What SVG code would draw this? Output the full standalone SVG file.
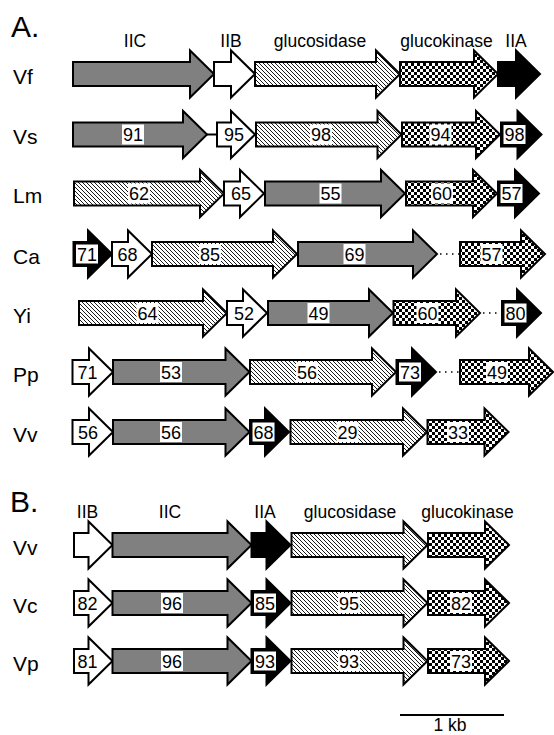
<svg xmlns="http://www.w3.org/2000/svg" width="554" height="735" viewBox="0 0 554 735">
<defs>
<pattern id="hatch" width="4" height="4" patternUnits="userSpaceOnUse">
<rect width="4" height="4" fill="#fff"/>
<path d="M-1,-1 L5,5 M-1,3 L1,5 M3,-1 L5,1" stroke="#000" stroke-width="0.9"/>
</pattern>
<pattern id="check" width="6" height="6" patternUnits="userSpaceOnUse">
<rect width="6" height="6" fill="#fff"/>
<rect width="3" height="3" fill="#000"/>
<rect x="3" y="3" width="3" height="3" fill="#000"/>
</pattern>
</defs>
<style>
polygon{stroke:#000;stroke-width:2;stroke-linejoin:miter}
.g{fill:#808080}
.w{fill:#fff}
.h{fill:url(#hatch)}
.c{fill:url(#check)}
.k{fill:#000}
.b{fill:#fff}
text{font-family:"Liberation Sans",Arial,sans-serif;fill:#000}
.n{font-size:18px;text-anchor:middle}
.hd{font-size:17.5px;text-anchor:middle}
.rl{font-size:21px}
.sec{font-size:30px}
.ln{stroke:#000;stroke-width:2}
.dt{stroke:#000;stroke-width:1.5;stroke-dasharray:1.5,4.5}
</style>

<text class="sec" x="11" y="37">A.</text>
<text class="hd" x="135" y="46.5">IIC</text>
<text class="hd" x="231" y="46.5">IIB</text>
<text class="hd" x="320" y="46.5">glucosidase</text>
<text class="hd" x="446.5" y="46.5">glucokinase</text>
<text class="hd" x="516" y="46.5">IIA</text>

<text class="rl" x="13" y="83.5">Vf</text>
<text class="rl" x="13" y="144">Vs</text>
<text class="rl" x="13" y="203">Lm</text>
<text class="rl" x="13" y="263.5">Ca</text>
<text class="rl" x="13" y="322.5">Yi</text>
<text class="rl" x="13" y="381.5">Pp</text>
<text class="rl" x="13" y="441.5">Vv</text>

<g id="connectors">
<line class="ln" x1="207" y1="134.5" x2="217" y2="134.5"/>
<line class="dt" x1="440" y1="254" x2="459" y2="254"/>
<line class="dt" x1="483" y1="313" x2="501" y2="313"/>
<line class="dt" x1="439" y1="372" x2="459" y2="372"/>
</g>

<!-- Row Vf -->
<g id="Vf-IIC"><polygon class="g" points="73,62 190,62 190,50.5 214,74 190,97.5 190,86 73,86"/></g>
<g id="Vf-IIB"><polygon class="w" points="214,62 231,62 231,50.5 255,74 231,97.5 231,86 214,86"/></g>
<g id="Vf-glucosidase"><polygon class="h" points="255,62 376,62 376,50.5 400,74 376,97.5 376,86 255,86"/></g>
<g id="Vf-glucokinase"><polygon class="c" points="400,62 474,62 474,50.5 498,74 474,97.5 474,86 400,86"/></g>
<g id="Vf-IIA"><polygon class="k" points="498,62 516,62 516,50.5 540,74 516,97.5 516,86 498,86"/></g>

<!-- Row Vs -->
<g id="Vs-IIC"><polygon class="g" points="73,122.5 183,122.5 183,111 207,134.5 183,158 183,146.5 73,146.5"/><rect class="b" x="122" y="124.5" width="22" height="20"/><text class="n" x="133" y="141">91</text></g>
<g id="Vs-IIB"><polygon class="w" points="217,122.5 231,122.5 231,111 255,134.5 231,158 231,146.5 217,146.5"/><text class="n" x="234" y="141">95</text></g>
<g id="Vs-glucosidase"><polygon class="h" points="256,122.5 377.5,122.5 377.5,111 401.5,134.5 377.5,158 377.5,146.5 256,146.5"/><rect class="b" x="310" y="124.5" width="22" height="20"/><text class="n" x="321" y="141">98</text></g>
<g id="Vs-glucokinase"><polygon class="c" points="402,122.5 476,122.5 476,111 500,134.5 476,158 476,146.5 402,146.5"/><rect class="b" x="429.5" y="124.5" width="22" height="20"/><text class="n" x="440.5" y="141">94</text></g>
<g id="Vs-IIA"><polygon class="k" points="501,122.5 517.5,122.5 517.5,111 541.5,134.5 517.5,158 517.5,146.5 501,146.5"/><rect class="b" x="503.5" y="125" width="22" height="19"/><text class="n" x="514.5" y="141">98</text></g>

<!-- Row Lm -->
<g id="Lm-glucosidase"><polygon class="h" points="74,181.5 200,181.5 200,170 224,193.5 200,217 200,205.5 74,205.5"/><rect class="b" x="128" y="183.5" width="22" height="20"/><text class="n" x="139" y="200">62</text></g>
<g id="Lm-IIB"><polygon class="w" points="224,181.5 240,181.5 240,170 264,193.5 240,217 240,205.5 224,205.5"/><text class="n" x="241" y="200">65</text></g>
<g id="Lm-IIC"><polygon class="g" points="265,181.5 381,181.5 381,170 405,193.5 381,217 381,205.5 265,205.5"/><rect class="b" x="319.5" y="183.5" width="22" height="20"/><text class="n" x="330.5" y="200">55</text></g>
<g id="Lm-glucokinase"><polygon class="c" points="406,181.5 473,181.5 473,170 497,193.5 473,217 473,205.5 406,205.5"/><rect class="b" x="431" y="183.5" width="22" height="20"/><text class="n" x="442" y="200">60</text></g>
<g id="Lm-IIA"><polygon class="k" points="498,181.5 515,181.5 515,170 539,193.5 515,217 515,205.5 498,205.5"/><rect class="b" x="500.5" y="184" width="22" height="19"/><text class="n" x="511.5" y="200">57</text></g>

<!-- Row Ca -->
<g id="Ca-IIA"><polygon class="k" points="73.5,242 88,242 88,230.5 112,254 88,277.5 88,266 73.5,266"/><rect class="b" x="76" y="244.5" width="22" height="19"/><text class="n" x="87" y="260.5">71</text></g>
<g id="Ca-IIB"><polygon class="w" points="112,242 128,242 128,230.5 152,254 128,277.5 128,266 112,266"/><text class="n" x="127.5" y="260.5">68</text></g>
<g id="Ca-glucosidase"><polygon class="h" points="152,242 273,242 273,230.5 297,254 273,277.5 273,266 152,266"/><rect class="b" x="199" y="244" width="22" height="20"/><text class="n" x="210" y="260.5">85</text></g>
<g id="Ca-IIC"><polygon class="g" points="298,242 413,242 413,230.5 437,254 413,277.5 413,266 298,266"/><rect class="b" x="343.5" y="244" width="22" height="20"/><text class="n" x="354.5" y="260.5">69</text></g>
<g id="Ca-glucokinase"><polygon class="c" points="460,242 521,242 521,230.5 545,254 521,277.5 521,266 460,266"/><rect class="b" x="480.5" y="244" width="22" height="20"/><text class="n" x="491.5" y="260.5">57</text></g>

<!-- Row Yi -->
<g id="Yi-glucosidase"><polygon class="h" points="79,301 203,301 203,289.5 227,313 203,336.5 203,325 79,325"/><rect class="b" x="136.5" y="303" width="22" height="20"/><text class="n" x="147.5" y="319.5">64</text></g>
<g id="Yi-IIB"><polygon class="w" points="227,301 243,301 243,289.5 267,313 243,336.5 243,325 227,325"/><text class="n" x="244" y="319.5">52</text></g>
<g id="Yi-IIC"><polygon class="g" points="268,301 369,301 369,289.5 393,313 369,336.5 369,325 268,325"/><rect class="b" x="307.5" y="303" width="22" height="20"/><text class="n" x="318.5" y="319.5">49</text></g>
<g id="Yi-glucokinase"><polygon class="c" points="393.5,301 456,301 456,289.5 480,313 456,336.5 456,325 393.5,325"/><rect class="b" x="416.5" y="303" width="22" height="20"/><text class="n" x="427.5" y="319.5">60</text></g>
<g id="Yi-IIA"><polygon class="k" points="502,301 517,301 517,289.5 541,313 517,336.5 517,325 502,325"/><rect class="b" x="504.5" y="303.5" width="22" height="19"/><text class="n" x="515.5" y="319.5">80</text></g>

<!-- Row Pp -->
<g id="Pp-IIB"><polygon class="w" points="72.5,360 89,360 89,348.5 113,372 89,395.5 89,384 72.5,384"/><text class="n" x="87.5" y="378.5">71</text></g>
<g id="Pp-IIC"><polygon class="g" points="113,360 225.5,360 225.5,348.5 249.5,372 225.5,395.5 225.5,384 113,384"/><rect class="b" x="160" y="362" width="22" height="20"/><text class="n" x="171" y="378.5">53</text></g>
<g id="Pp-glucosidase"><polygon class="h" points="250,360 372,360 372,348.5 396,372 372,395.5 372,384 250,384"/><rect class="b" x="296" y="362" width="22" height="20"/><text class="n" x="307" y="378.5">56</text></g>
<g id="Pp-IIA"><polygon class="k" points="396.5,360 412,360 412,348.5 436,372 412,395.5 412,384 396.5,384"/><rect class="b" x="399" y="362.5" width="22" height="19"/><text class="n" x="410" y="378.5">73</text></g>
<g id="Pp-glucokinase"><polygon class="c" points="460,360 529,360 529,348.5 553,372 529,395.5 529,384 460,384"/><rect class="b" x="486" y="362" width="22" height="20"/><text class="n" x="497" y="378.5">49</text></g>

<!-- Row Vv (A) -->
<g id="VvA-IIB"><polygon class="w" points="72.5,420 89,420 89,408.5 113,432 89,455.5 89,444 72.5,444"/><text class="n" x="88" y="438.5">56</text></g>
<g id="VvA-IIC"><polygon class="g" points="113,420 225.5,420 225.5,408.5 249.5,432 225.5,455.5 225.5,444 113,444"/><rect class="b" x="160" y="422" width="22" height="20"/><text class="n" x="171" y="438.5">56</text></g>
<g id="VvA-IIA"><polygon class="k" points="250,420 265,420 265,408.5 289,432 265,455.5 265,444 250,444"/><rect class="b" x="252.5" y="422.5" width="22" height="19"/><text class="n" x="263.5" y="438.5">68</text></g>
<g id="VvA-glucosidase"><polygon class="h" points="290.5,420 403,420 403,408.5 427,432 403,455.5 403,444 290.5,444"/><rect class="b" x="336.5" y="422" width="22" height="20"/><text class="n" x="347.5" y="438.5">29</text></g>
<g id="VvA-glucokinase"><polygon class="c" points="427.5,420 484.5,420 484.5,408.5 508.5,432 484.5,455.5 484.5,444 427.5,444"/><rect class="b" x="447" y="422" width="22" height="20"/><text class="n" x="458" y="438.5">33</text></g>

<!-- Section B -->
<text class="sec" x="10" y="512">B.</text>
<text class="hd" x="87.5" y="518">IIB</text>
<text class="hd" x="170" y="518">IIC</text>
<text class="hd" x="265" y="518">IIA</text>
<text class="hd" x="350" y="518">glucosidase</text>
<text class="hd" x="467.5" y="518">glucokinase</text>

<text class="rl" x="13" y="554.5">Vv</text>
<text class="rl" x="13" y="612.5">Vc</text>
<text class="rl" x="13" y="670.5">Vp</text>

<!-- Row Vv (B) -->
<g id="VvB-IIB"><polygon class="w" points="74,533 88.5,533 88.5,521.5 112.5,545 88.5,568.5 88.5,557 74,557"/></g>
<g id="VvB-IIC"><polygon class="g" points="112.5,533 227.5,533 227.5,521.5 251.5,545 227.5,568.5 227.5,557 112.5,557"/></g>
<g id="VvB-IIA"><polygon class="k" points="251.5,533 266.5,533 266.5,521.5 290.5,545 266.5,568.5 266.5,557 251.5,557"/></g>
<g id="VvB-glucosidase"><polygon class="h" points="291.5,533 403.5,533 403.5,521.5 427.5,545 403.5,568.5 403.5,557 291.5,557"/></g>
<g id="VvB-glucokinase"><polygon class="c" points="428,533 485,533 485,521.5 509,545 485,568.5 485,557 428,557"/></g>

<!-- Row Vc -->
<g id="Vc-IIB"><polygon class="w" points="74,591 88.5,591 88.5,579.5 112.5,603 88.5,626.5 88.5,615 74,615"/><text class="n" x="87.5" y="609.5">82</text></g>
<g id="Vc-IIC"><polygon class="g" points="112.5,591 227.5,591 227.5,579.5 251.5,603 227.5,626.5 227.5,615 112.5,615"/><rect class="b" x="161" y="593" width="22" height="20"/><text class="n" x="172" y="609.5">96</text></g>
<g id="Vc-IIA"><polygon class="k" points="251.5,591 266.5,591 266.5,579.5 290.5,603 266.5,626.5 266.5,615 251.5,615"/><rect class="b" x="254" y="593.5" width="22" height="19"/><text class="n" x="265" y="609.5">85</text></g>
<g id="Vc-glucosidase"><polygon class="h" points="291.5,591 403.5,591 403.5,579.5 427.5,603 403.5,626.5 403.5,615 291.5,615"/><rect class="b" x="338" y="593" width="22" height="20"/><text class="n" x="349" y="609.5">95</text></g>
<g id="Vc-glucokinase"><polygon class="c" points="428,591 485,591 485,579.5 509,603 485,626.5 485,615 428,615"/><rect class="b" x="450" y="593" width="22" height="20"/><text class="n" x="461" y="609.5">82</text></g>

<!-- Row Vp -->
<g id="Vp-IIB"><polygon class="w" points="74,649 88.5,649 88.5,637.5 112.5,661 88.5,684.5 88.5,673 74,673"/><text class="n" x="87.5" y="667.5">81</text></g>
<g id="Vp-IIC"><polygon class="g" points="112.5,649 227.5,649 227.5,637.5 251.5,661 227.5,684.5 227.5,673 112.5,673"/><rect class="b" x="161" y="651" width="22" height="20"/><text class="n" x="172" y="667.5">96</text></g>
<g id="Vp-IIA"><polygon class="k" points="251.5,649 266.5,649 266.5,637.5 290.5,661 266.5,684.5 266.5,673 251.5,673"/><rect class="b" x="254" y="651.5" width="22" height="19"/><text class="n" x="265" y="667.5">93</text></g>
<g id="Vp-glucosidase"><polygon class="h" points="291.5,649 403.5,649 403.5,637.5 427.5,661 403.5,684.5 403.5,673 291.5,673"/><rect class="b" x="338" y="651" width="22" height="20"/><text class="n" x="349" y="667.5">93</text></g>
<g id="Vp-glucokinase"><polygon class="c" points="428,649 485,649 485,637.5 509,661 485,684.5 485,673 428,673"/><rect class="b" x="450" y="651" width="22" height="20"/><text class="n" x="461" y="667.5">73</text></g>

<g id="scale">
<line x1="400" y1="715" x2="504" y2="715" stroke="#000" stroke-width="2"/>
<text class="hd" x="450" y="731">1 kb</text>
</g>
</svg>
